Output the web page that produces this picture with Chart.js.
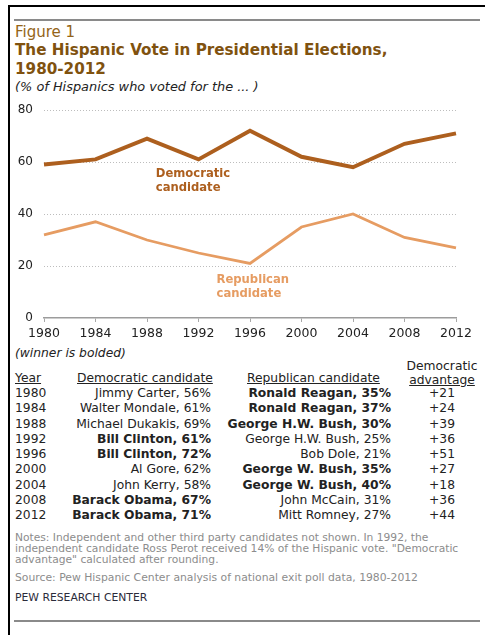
<!DOCTYPE html>
<html>
<head>
<meta charset="utf-8">
<script src="https://cdn.jsdelivr.net/npm/chart.js@4.4.1/dist/chart.umd.min.js"></script>
<style>
  body { margin: 0; background: #fff; width: 485px; height: 635px; overflow: hidden; position: relative;
         font-family: "DejaVu Sans", Verdana, sans-serif; color: #222; }
  .frame { position: absolute; left: 8px; top: 5px; width: 490px; height: 650px;
           border-left: 2px solid #000; border-top: 2px solid #000; }
  .rule { position: absolute; left: 14px; width: 466px; height: 2px; background: #8a8a8a; }
  .t { position: absolute; white-space: nowrap; line-height: 14px; }
  .fig { left: 15px; top: 25px; font-size: 15px; color: #946418; }
  .title { left: 15px; top: 40.5px; font-size: 15.2px; font-weight: bold; color: #80520f; line-height: 19px; }
  .sub { left: 15px; top: 80px; font-size: 12.9px; font-style: italic; color: #222; }
  .note { left: 15px; font-size: 10.8px; color: #8c8c8c; line-height: 11px; }
  .cell { font-size: 12.3px; }
  .r { text-align: right; }
  .c { text-align: center; }
  .u { text-decoration: underline; }
  .b { font-weight: bold; }
  #wrap { position: absolute; left: 10px; top: 100px; width: 470px; height: 245px; }
  #wrap canvas { display: block; }
</style>
</head>
<body>
<div class="frame"></div>
<div class="rule" style="top:19px"></div>
<div class="t fig">Figure 1</div>
<div class="t title">The Hispanic Vote in Presidential Elections,<br>1980-2012</div>
<div class="t sub">(% of Hispanics who voted for the ... )</div>

<div id="wrap"><canvas id="chart" width="470" height="245"></canvas></div>

<div class="t cell" style="left:15px; top:346px; font-style:italic;">(winner is bolded)</div>
<div class="t cell u" style="left:15px; top:371px;">Year</div>
<div class="t cell u" style="left:77px; top:371px;">Democratic candidate</div>
<div class="t cell u" style="left:247px; top:371px;">Republican candidate</div>
<div class="t cell c" style="left:397px; width:90px; top:359px;">Democratic</div>
<div class="t cell c u" style="left:397px; width:90px; top:373px;">advantage</div>
<div id="rows"></div>

<div class="t note" style="top:532px; font-size:10.7px;">Notes: Independent and other third party candidates not shown. In 1992, the<br>independent candidate Ross Perot received 14% of the Hispanic vote. "Democratic<br>advantage" calculated after rounding.</div>
<div class="t note" style="top:572px;">Source: Pew Hispanic Center analysis of national exit poll data, 1980-2012</div>
<div class="t note" style="top:592px; color:#2b2b3a;">PEW RESEARCH CENTER</div>
<div class="rule" style="top:620px"></div>

<script>
// Election years on the x axis and in the table
const years = ['1980', '1984', '1988', '1992', '1996', '2000', '2004', '2008', '2012'];

// Share of the Hispanic vote plotted on the chart (%)
const demShare = [59, 61, 69, 61, 72, 62, 58, 67, 71];
const repShare = [32, 37, 30, 25, 21, 35, 40, 31, 27];

const yTicks = [0, 20, 40, 60, 80];

// Table rows
const demNames = ['Jimmy Carter', 'Walter Mondale', 'Michael Dukakis', 'Bill Clinton', 'Bill Clinton',
                  'Al Gore', 'John Kerry', 'Barack Obama', 'Barack Obama'];
const demPct = [56, 61, 69, 61, 72, 62, 58, 67, 71];
const repNames = ['Ronald Reagan', 'Ronald Reagan', 'George H.W. Bush', 'George H.W. Bush', 'Bob Dole',
                  'George W. Bush', 'George W. Bush', 'John McCain', 'Mitt Romney'];
const repPct = [35, 37, 30, 25, 21, 35, 40, 31, 27];
const demWon = [false, false, false, true, true, false, false, true, true];
const demAdvantage = [21, 24, 39, 36, 51, 27, 18, 36, 44];

const DEM = '#ad5f1e';
const REP = '#e69c62';
const FONT = '"DejaVu Sans", Verdana, sans-serif';

// build the table below the chart
const rows = document.getElementById('rows');
years.forEach((yr, i) => {
  const top = 386 + i * 15.25;
  const add = (text, style, cls) => {
    const d = document.createElement('div');
    d.className = 't cell ' + (cls || '');
    d.style.cssText = style + 'top:' + top + 'px;';
    d.textContent = text;
    rows.appendChild(d);
  };
  add(yr, 'left:15px;');
  add(demNames[i] + ', ' + demPct[i] + '%', 'right:274px;', 'r' + (demWon[i] ? ' b' : ''));
  add(repNames[i] + ', ' + repPct[i] + '%', 'right:94px;', 'r' + (demWon[i] ? '' : ' b'));
  add('+' + demAdvantage[i], 'left:397px; width:90px;', 'c');
});

// series names written next to the lines, in data coordinates
const lineLabels = [
  { lines: ['Democratic', 'candidate'], x: 2.17, y: 55.4, color: DEM },
  { lines: ['Republican', 'candidate'], x: 3.35, y: 14.6, color: REP }
];

const lineLabelPlugin = {
  id: 'lineLabels',
  afterDatasetsDraw(chart) {
    const { ctx, scales } = chart;
    ctx.save();
    ctx.font = 'bold 11.6px ' + FONT;
    ctx.textAlign = 'left';
    ctx.textBaseline = 'middle';
    lineLabels.forEach(l => {
      const px = scales.x.getPixelForValue(l.x);
      const py = scales.y.getPixelForValue(l.y);
      ctx.fillStyle = l.color;
      l.lines.forEach((s, k) => ctx.fillText(s, px, py + k * 14));
    });
    ctx.restore();
  }
};

new Chart(document.getElementById('chart').getContext('2d'), {
  type: 'line',
  data: {
    labels: years,
    datasets: [
      { label: 'Democratic candidate', data: demShare, borderColor: DEM, borderWidth: 4,
        pointRadius: 0, tension: 0 },
      { label: 'Republican candidate', data: repShare, borderColor: REP, borderWidth: 2.8,
        pointRadius: 0, tension: 0 }
    ]
  },
  options: {
    responsive: false,
    animation: false,
    layout: { padding: { top: 10, right: 24, left: 0, bottom: 0 } },
    plugins: { legend: { display: false }, tooltip: { enabled: false } },
    scales: {
      x: {
        offset: false,
        grid: { drawOnChartArea: false, drawTicks: true, tickLength: 4, color: '#a8a8a8' },
        border: { display: true, color: '#9c9c9c', width: 1.5 },
        ticks: { color: '#222', font: { family: FONT, size: 12.5 }, padding: 4, maxRotation: 0, autoSkip: false },
        afterFit(scale) { scale.height = 27; }
      },
      y: {
        min: 0,
        max: 80,
        afterBuildTicks(scale) { scale.ticks = yTicks.map(v => ({ value: v })); },
        grid: { drawTicks: false, lineWidth: 1,
                color: c => (c.tick && c.tick.value === 0) ? 'rgba(0,0,0,0)' : '#bdbdbd' },
        border: { display: false, dash: [1, 2] },
        ticks: { color: '#222', font: { family: FONT, size: 12 }, padding: 11 },
        afterFit(scale) {
          // fixed axis width; keep the tick padding from pushing the plot down
          scale.width = 34;
          scale.paddingTop = 0;
          scale.paddingBottom = 0;
        }
      }
    }
  },
  plugins: [lineLabelPlugin]
});
</script>
</body>
</html>
